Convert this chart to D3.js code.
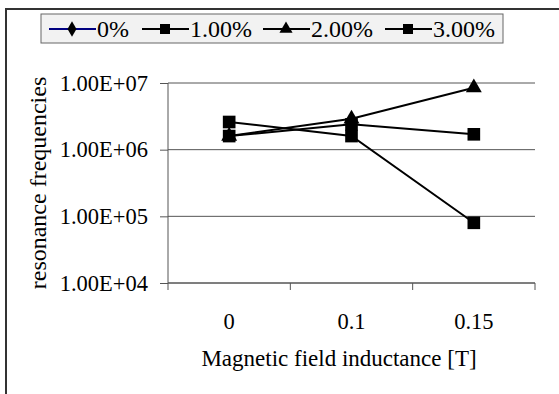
<!DOCTYPE html>
<html lang="en">
<head>
    <meta charset="utf-8">
    <title>Resonance frequencies</title>
    <script src="https://cdn.jsdelivr.net/npm/d3@7"></script>
    <style>
        body { margin: 0; background: #fff; }
        text { font-family: "Liberation Serif", "Times New Roman", serif; fill: #000; }
    </style>
</head>
<body>
    <svg id="chart" width="559" height="394"></svg>

    <script>
        // categories on the x axis (magnetic field, T)
        const fields = ["0", "0.1", "0.15"];

        // one array per series
        const seriesNames = ["0%", "1.00%", "2.00%", "3.00%"];
        const vals0 = [null, null, null];           // 0% series shows no points
        const vals1 = [2.6e6, 1.6e6, 8.0e4];
        const vals2 = [1.6e6, 2.9e6, 8.5e6];
        const vals3 = [1.6e6, 2.4e6, 1.7e6];
        const seriesValues = [vals0, vals1, vals2, vals3];
        const seriesMarkers = ["diamond", "square", "triangle", "square"];
        const seriesColors = ["#000080", "#000", "#000", "#000"];

        const yTicks = [1e4, 1e5, 1e6, 1e7];

        const svg = d3.select("#chart");
        const plotL = 168, plotR = 535, plotT = 83, plotB = 283;

        // outer chart border (cut off at right/bottom like the source)
        svg.append("rect")
            .attr("x", 6).attr("y", 9)
            .attr("width", 600).attr("height", 420)
            .attr("fill", "none")
            .attr("stroke", "#333")
            .attr("stroke-width", 2);

        const x = d3.scaleBand().domain(fields).range([plotL, plotR]);
        const y = d3.scaleLog().domain([1e4, 1e7]).range([plotB, plotT]);

        // gridlines
        svg.append("g")
            .selectAll("line")
            .data(yTicks)
            .join("line")
            .attr("x1", plotL).attr("x2", plotR)
            .attr("y1", d => y(d)).attr("y2", d => y(d))
            .attr("stroke", "#555")
            .attr("stroke-width", 1);

        // y axis
        const yAxis = svg.append("g")
            .attr("transform", `translate(${plotL},0)`)
            .call(d3.axisLeft(y).tickValues(yTicks).tickSize(8).tickPadding(12)
                .tickFormat(d => "1.00E+" + String(Math.round(Math.log10(d))).padStart(2, "0")));
        yAxis.select(".domain").attr("stroke", "#555").attr("d", `M0,${plotT}V${plotB}`);
        yAxis.selectAll(".tick line").attr("stroke", "#555");
        yAxis.selectAll("text").style("font-size", "22.5px").attr("fill", "#000");

        // x axis: ticks sit on category boundaries
        const xAxis = svg.append("g")
            .attr("transform", `translate(0,${plotB})`);
        xAxis.append("line")
            .attr("x1", plotL).attr("x2", plotR)
            .attr("stroke", "#555");
        const boundaries = fields.map(f => x(f)).concat([plotR]);
        xAxis.selectAll("line.tk")
            .data(boundaries)
            .join("line")
            .attr("class", "tk")
            .attr("x1", d => d).attr("x2", d => d)
            .attr("y1", 0).attr("y2", 7)
            .attr("stroke", "#555");
        xAxis.selectAll("text")
            .data(fields)
            .join("text")
            .attr("x", d => x(d) + x.bandwidth() / 2)
            .attr("y", 46)
            .attr("text-anchor", "middle")
            .style("font-size", "22.5px")
            .text(d => d);

        // axis titles
        svg.append("text")
            .attr("x", 339)
            .attr("y", 366)
            .attr("text-anchor", "middle")
            .style("font-size", "23px")
            .text("Magnetic field inductance [T]");

        svg.append("text")
            .attr("transform", `translate(46,${(plotT + plotB) / 2}) rotate(-90)`)
            .attr("text-anchor", "middle")
            .style("font-size", "24px")
            .text("resonance frequencies");

        const sym = {
            diamond: d3.symbol(d3.symbolDiamond, 70),
            square: d3.symbol(d3.symbolSquare, 160),
            triangle: d3.symbol(d3.symbolTriangle, 110)
        };
        const legSym = {
            diamond: d3.symbol(d3.symbolDiamond, 70),
            square: d3.symbol(d3.symbolSquare, 100),
            triangle: d3.symbol(d3.symbolTriangle, 75)
        };

        const line = d3.line()
            .defined(d => d.v != null)
            .x(d => x(d.f) + x.bandwidth() / 2)
            .y(d => y(d.v));

        seriesValues.forEach((vals, i) => {
            const pts = fields.map((f, j) => ({ f: f, v: vals[j] }));
            svg.append("path")
                .attr("d", line(pts))
                .attr("fill", "none")
                .attr("stroke", seriesColors[i])
                .attr("stroke-width", 2);
            svg.append("g")
                .selectAll("path")
                .data(pts.filter(d => d.v != null))
                .join("path")
                .attr("transform", d => `translate(${x(d.f) + x.bandwidth() / 2},${y(d.v)})`)
                .attr("d", sym[seriesMarkers[i]]())
                .attr("fill", "#000");
        });

        // legend
        const legend = svg.append("g");
        legend.append("rect")
            .attr("x", 41).attr("y", 14)
            .attr("width", 462).attr("height", 29)
            .attr("fill", "#f2f2f2")
            .attr("stroke", "#666");
        const legX = [49, 142, 263, 385];
        seriesNames.forEach((name, i) => {
            const g = legend.append("g").attr("transform", `translate(${legX[i]},29)`);
            g.append("line")
                .attr("x1", 0).attr("x2", 47)
                .attr("stroke", seriesColors[i])
                .attr("stroke-width", 2);
            g.append("path")
                .attr("transform", "translate(23,0)")
                .attr("d", legSym[seriesMarkers[i]]())
                .attr("fill", "#000");
            g.append("text")
                .attr("x", 48)
                .attr("y", 8)
                .style("font-size", "24px")
                .text(name);
        });
    </script>
</body>
</html>
